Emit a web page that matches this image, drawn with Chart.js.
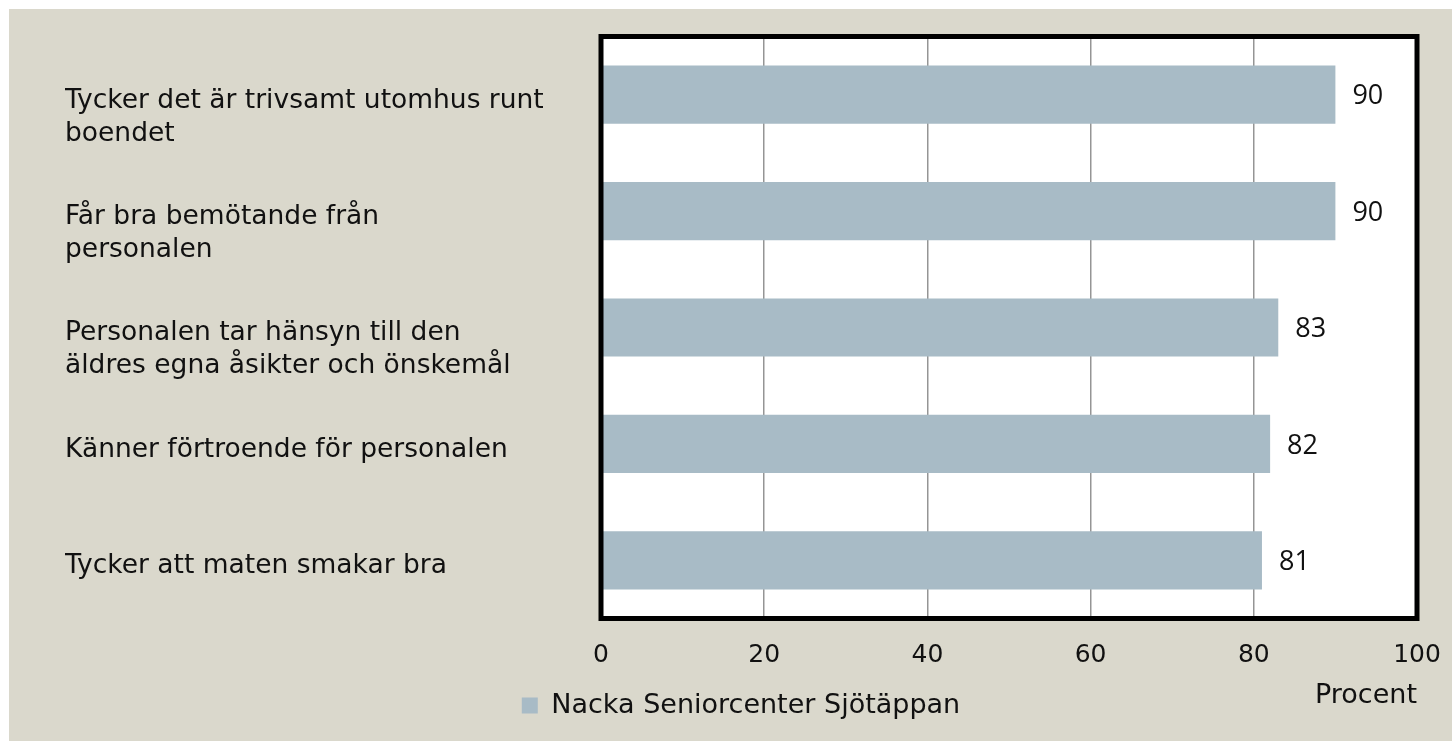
<!DOCTYPE html>
<html>
<head>
<meta charset="utf-8">
<script src="https://cdn.jsdelivr.net/npm/chart.js@4/dist/chart.umd.min.js"></script>
<style>
  html, body { margin: 0; padding: 0; background: #fff; }
  canvas { display: block; }
</style>
</head>
<body>
<canvas id="grafico" width="1452" height="741"></canvas>
<script>
// Frågor (varje rad i en fråga är en egen textrad)
const kategorier = [
  ['Tycker det är trivsamt utomhus runt', 'boendet'],
  ['Får bra bemötande från', 'personalen'],
  ['Personalen tar hänsyn till den', 'äldres egna åsikter och önskemål'],
  ['Känner förtroende för personalen'],
  ['Tycker att maten smakar bra']
];
const andelar = [90, 90, 83, 82, 81];
const serieNamn = 'Nacka Seniorcenter Sjötäppan';
const axelTitel = 'Procent';
const skalaMin = 0;
const skalaMax = 100;
const skalaSteg = 20;

const beige = '#dad8cc';
const stapelFarg = '#a8bbc6';
const textFarg = '#111111';
const typsnitt = '"DejaVu Sans", sans-serif';

// bakgrund, vit ritarea och tjock ram
const bakgrund = {
  id: 'bakgrund',
  beforeDraw(chart) {
    const {ctx, chartArea: a} = chart;
    ctx.save();
    ctx.fillStyle = '#ffffff';
    ctx.fillRect(0, 0, chart.width, chart.height);
    ctx.fillStyle = beige;
    ctx.fillRect(9, 9, chart.width - 9, chart.height - 9);
    ctx.fillStyle = '#ffffff';
    ctx.fillRect(a.left, a.top, a.right - a.left, a.bottom - a.top);
    ctx.restore();
  },
  afterDatasetsDraw(chart) {
    const {ctx, chartArea: a} = chart;
    ctx.save();
    ctx.strokeStyle = '#000000';
    ctx.lineWidth = 5;
    ctx.lineJoin = 'miter';
    ctx.strokeRect(a.left, a.top, a.right - a.left, a.bottom - a.top);
    ctx.restore();
  }
};

// värden till höger om staplarna
const vardeEtiketter = {
  id: 'vardeEtiketter',
  afterDraw(chart) {
    const {ctx} = chart;
    ctx.save();
    ctx.font = '27px "Open Sans", sans-serif';
    ctx.fillStyle = textFarg;
    ctx.textAlign = 'left';
    ctx.textBaseline = 'middle';
    chart.getDatasetMeta(0).data.forEach((bar, i) => {
      ctx.fillText(String(andelar[i]), bar.x + 17, bar.y + 2);
    });
    ctx.restore();
  }
};

new Chart(document.getElementById('grafico'), {
  type: 'bar',
  data: {
    labels: kategorier,
    datasets: [{
      label: serieNamn,
      data: andelar,
      backgroundColor: stapelFarg,
      borderWidth: 0,
      barPercentage: 0.5,
      categoryPercentage: 1
    }]
  },
  options: {
    indexAxis: 'y',
    responsive: false,
    animation: false,
    layout: {
      padding: {left: 65, right: 35, top: 36.5, bottom: 12}
    },
    plugins: {
      legend: {
        position: 'bottom',
        labels: {
          boxWidth: 16,
          boxHeight: 16,
          padding: 8,
          color: textFarg,
          font: {family: typsnitt, size: 27}
        }
      },
      tooltip: {enabled: false}
    },
    scales: {
      x: {
        min: skalaMin,
        max: skalaMax,
        ticks: {
          stepSize: skalaSteg,
          padding: 22,
          color: textFarg,
          font: {family: typsnitt, size: 25}
        },
        grid: {
          color: '#959595',
          lineWidth: 1.5,
          drawTicks: false
        },
        border: {display: false},
        title: {
          display: true,
          text: axelTitel,
          align: 'end',
          color: textFarg,
          font: {family: typsnitt, size: 27},
          padding: {top: 0, bottom: -28.5}
        },
        afterFit(scale) {
          scale.height = 65.5;
          scale.paddingLeft = 0;
          scale.paddingRight = 0;
        }
      },
      y: {
        ticks: {
          crossAlign: 'far',
          labelOffset: 6,
          color: textFarg,
          font: {family: typsnitt, size: 26.5, lineHeight: '33px'},
          callback(value, index) {
            const rader = kategorier[index];
            return rader.length > 1 ? [''].concat(rader) : rader;
          }
        },
        grid: {display: false, drawTicks: false},
        border: {display: false},
        afterFit(scale) { scale.width = 536; }
      }
    }
  },
  plugins: [bakgrund, vardeEtiketter]
});
</script>
</body>
</html>
